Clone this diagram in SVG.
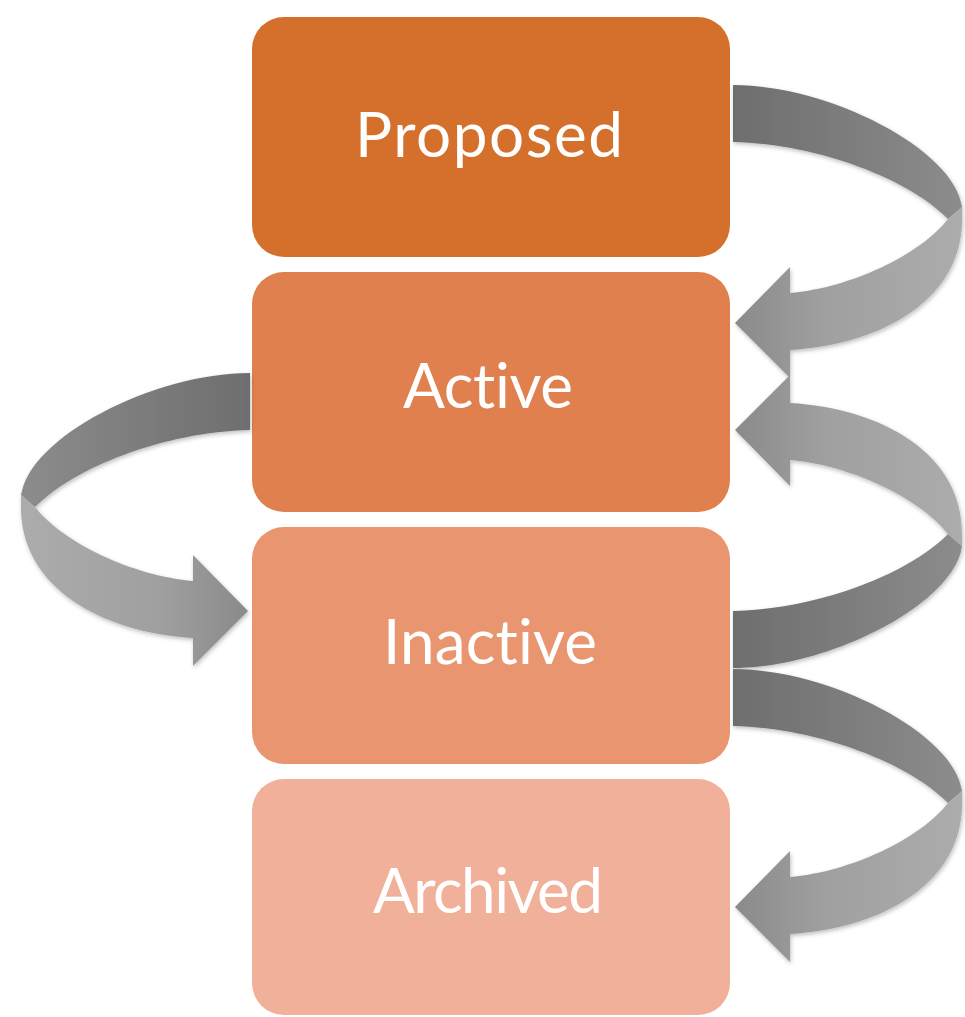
<svg xmlns="http://www.w3.org/2000/svg" xmlns:xlink="http://www.w3.org/1999/xlink" width="965" height="1017" viewBox="0 0 965 1017">
  <style>
    .box-label { font-family: Lato, "Open Sans", "Liberation Sans", sans-serif; font-size: 62px; fill: #ffffff; text-anchor: middle; font-variant-ligatures: none; font-feature-settings: "liga" 0, "clig" 0; }
  </style>
  <defs>
    <linearGradient id="gBack" gradientUnits="userSpaceOnUse" x1="733" y1="0" x2="962" y2="0">
      <stop offset="0" stop-color="#6e6e6e"/>
      <stop offset="1" stop-color="#8c8c8c"/>
    </linearGradient>
    <linearGradient id="gFront" gradientUnits="userSpaceOnUse" x1="962" y1="0" x2="735" y2="0">
      <stop offset="0" stop-color="#acacac"/>
      <stop offset="0.6" stop-color="#a0a0a0"/>
      <stop offset="1" stop-color="#8a8a8a"/>
    </linearGradient>
    <filter id="soft" x="-10%" y="-10%" width="120%" height="130%">
      <feDropShadow dx="1" dy="2" stdDeviation="2" flood-color="#000" flood-opacity="0.25"/>
    </filter>
    <g id="curvedArrow">
      <path fill="url(#gBack)" d="M 733,85 C 830,85 955,150 962,207 L 948,219 C 910,180 820,144 733,142 Z"/>
      <path fill="url(#gFront)" d="M 948,219 L 962,207 L 962,215 C 965,300 880,345 790,350 L 790,378 L 735,323 L 790,267 L 790,293 C 850,288 920,255 948,219 Z"/>
    </g>
  </defs>

  <rect width="965" height="1017" fill="#ffffff"/>

  <g id="node-proposed">
    <rect x="252" y="17" width="478" height="240" rx="32" fill="#D5702C"/>
    <text class="box-label" x="489" y="157" textLength="268">Proposed</text>
  </g>
  <g id="node-active">
    <rect x="252" y="272" width="478" height="240" rx="32" fill="#E0804E"/>
    <text class="box-label" x="488" y="408" textLength="170">Active</text>
  </g>
  <g id="node-inactive">
    <rect x="252" y="527" width="478" height="237" rx="32" fill="#E99670"/>
    <text class="box-label" x="490" y="664" textLength="214">Inactive</text>
  </g>
  <g id="node-archived">
    <rect x="252" y="779" width="478" height="236" rx="32" fill="#F1B099"/>
    <text class="box-label" x="488" y="913" textLength="230">Archived</text>
  </g>

  <g id="connectors" filter="url(#soft)">
    <use xlink:href="#curvedArrow" href="#curvedArrow"/>
    <use xlink:href="#curvedArrow" href="#curvedArrow" transform="translate(983,288) scale(-1,1)"/>
    <use xlink:href="#curvedArrow" href="#curvedArrow" transform="translate(0,753) scale(1,-1)"/>
    <use xlink:href="#curvedArrow" href="#curvedArrow" transform="translate(0,584)"/>
  </g>
</svg>
